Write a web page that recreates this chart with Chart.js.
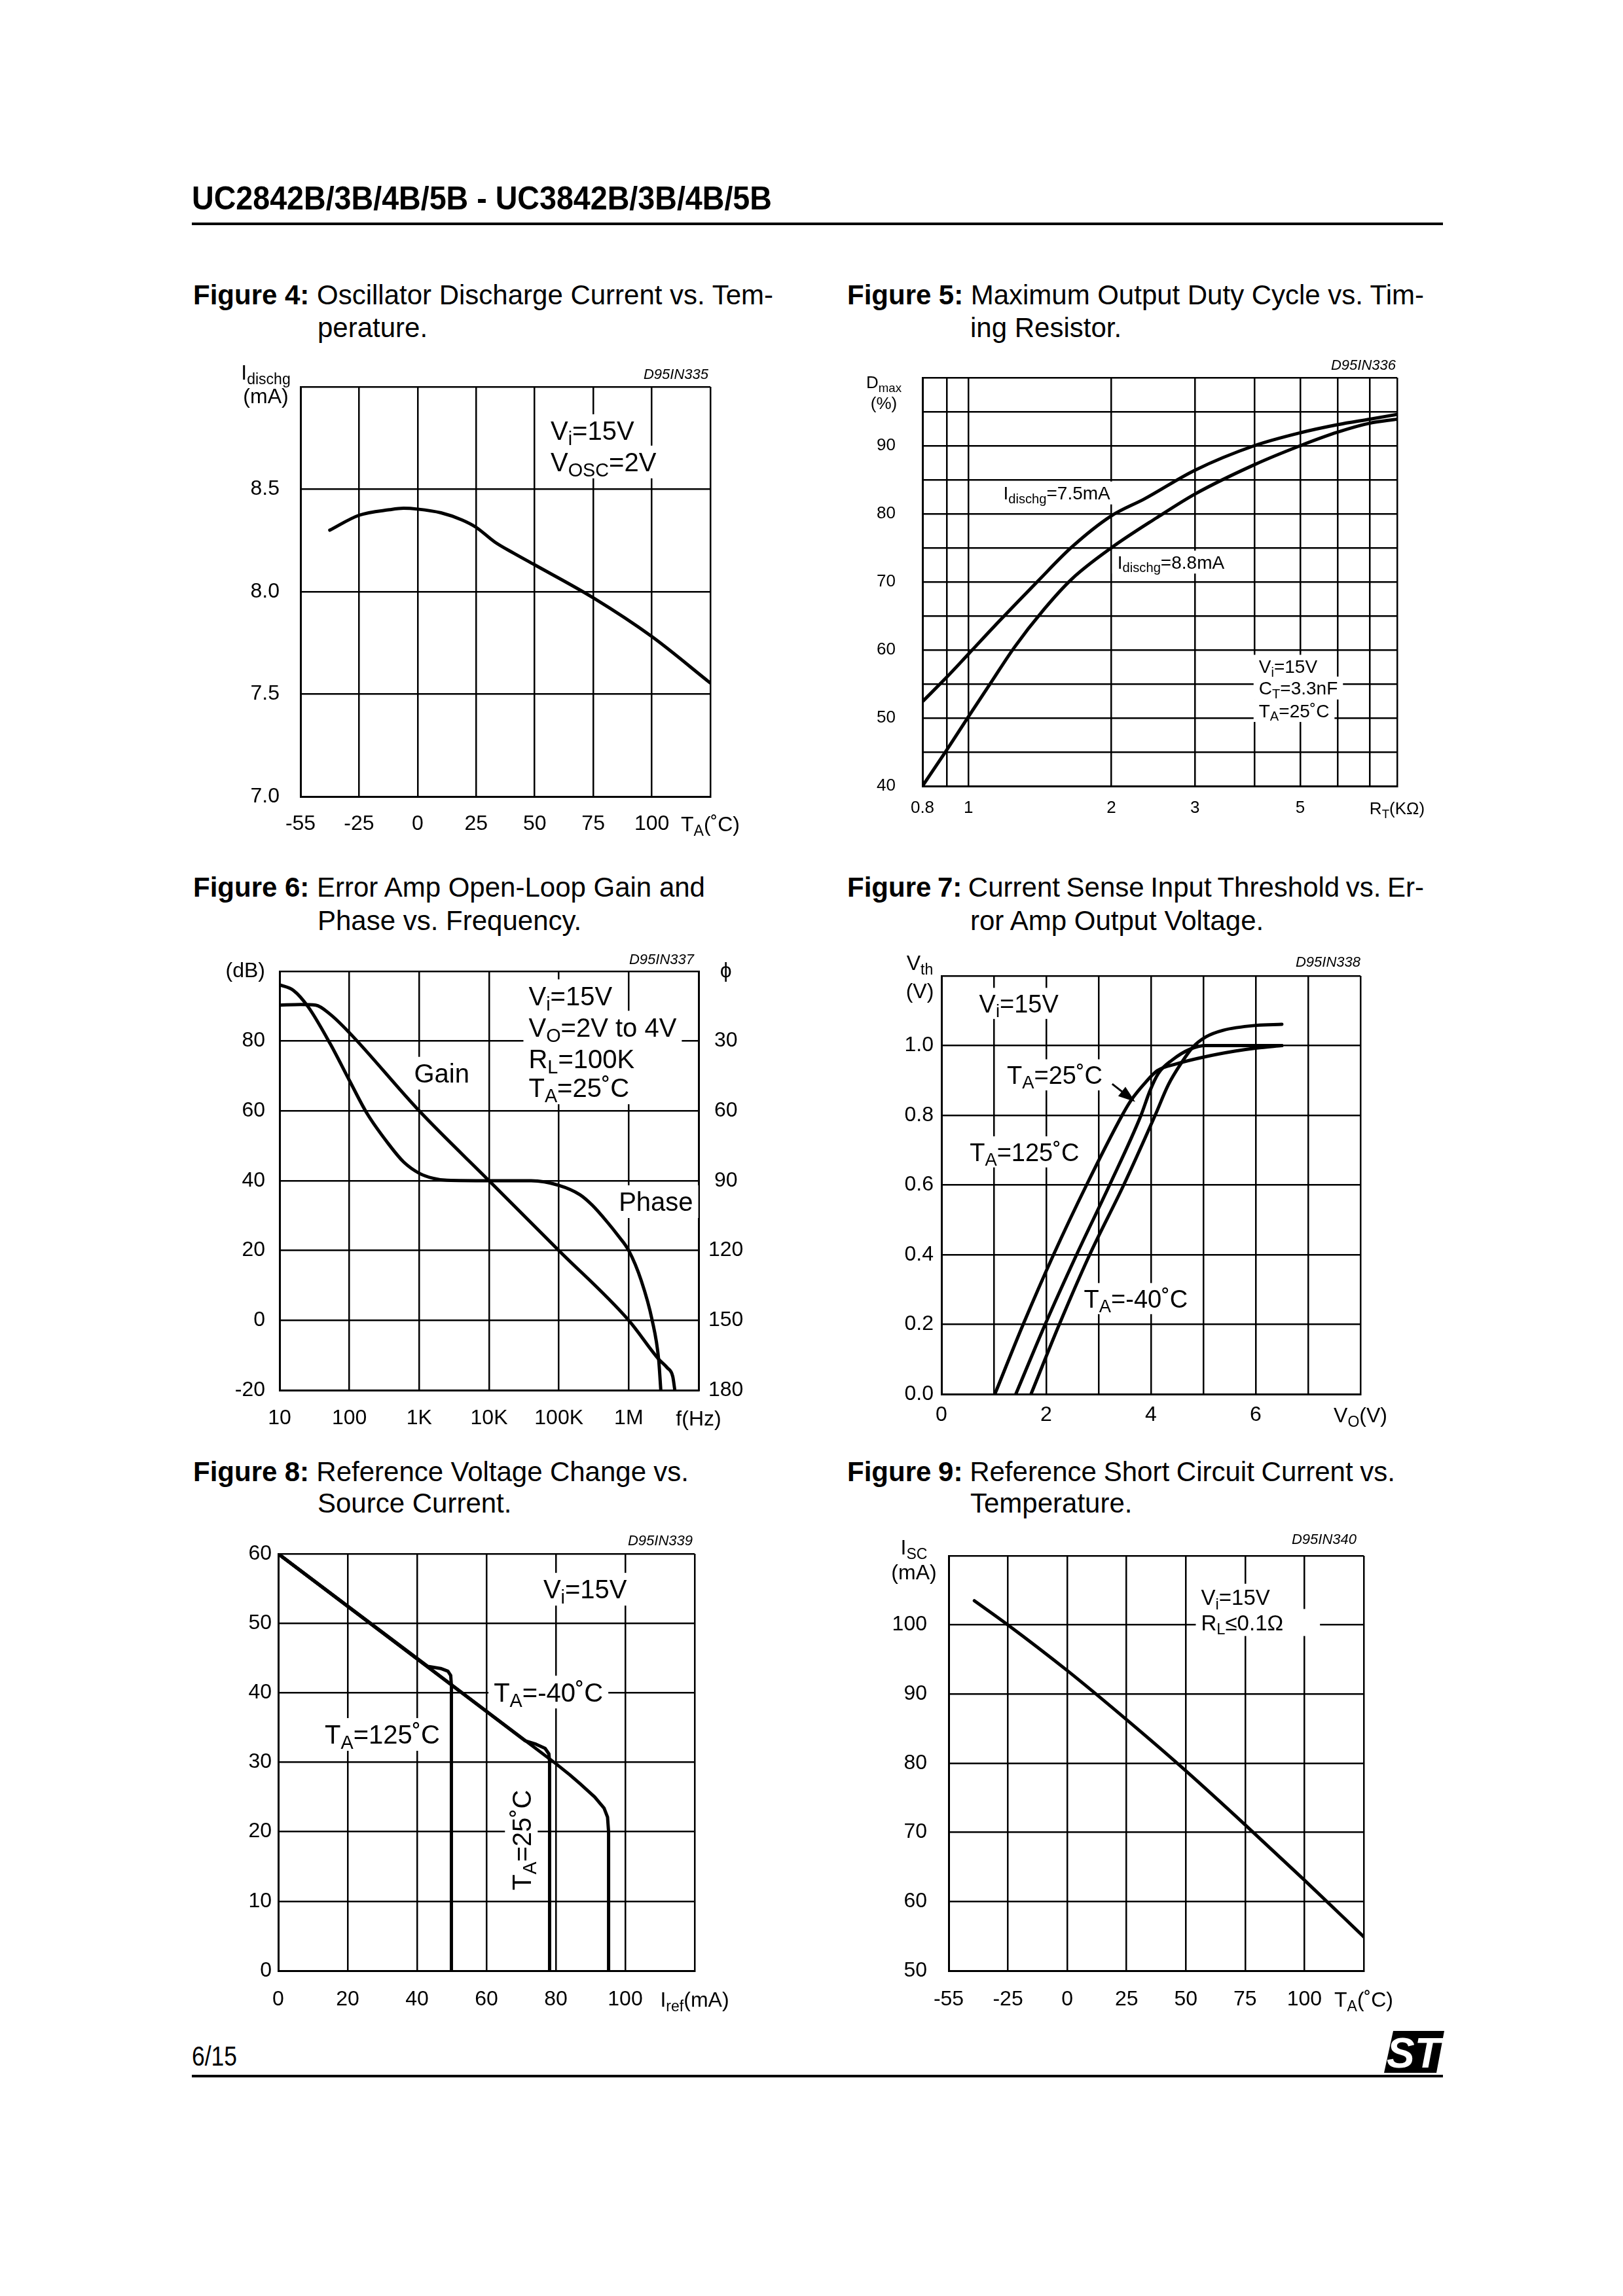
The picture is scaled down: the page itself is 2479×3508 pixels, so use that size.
<!DOCTYPE html>
<html>
<head>
<meta charset="utf-8">
<title>UC2842B/3B/4B/5B - UC3842B/3B/4B/5B</title>
<script src="https://cdn.jsdelivr.net/npm/chart.js@4.4.1/dist/chart.umd.min.js"></script>
<style>
  html, body { margin: 0; padding: 0; background: #fff; }
  body { position: relative; width: 2479px; height: 3508px; overflow: hidden; font-family: 'Liberation Sans', Arial, sans-serif; color: #000; }
  .t { position: absolute; white-space: nowrap; line-height: 1; transform-origin: 0 0; }
  .cap { position: absolute; white-space: nowrap; font-size: 42px; line-height: 42px; }
  .rule { position: absolute; left: 293px; width: 1911px; height: 4px; background: #000; }
  canvas { position: absolute; }
</style>
</head>
<body>
<div id="hdr" class="t" style="left:293px; top:278px; font-size:50px; font-weight:bold;">UC2842B/3B/4B/5B - UC3842B/3B/4B/5B</div>
<div class="rule" style="top:340px"></div>

<div class="cap fit" data-w="886" style="left:295px; top:430px"><b>Figure 4:</b> Oscillator Discharge Current vs. Tem-</div>
<div class="cap" style="left:485px; top:480px">perature.</div>
<div class="cap fit" data-w="881" style="left:1294px; top:430px"><b>Figure 5:</b> Maximum Output Duty Cycle vs. Tim-</div>
<div class="cap" style="left:1482px; top:480px">ing Resistor.</div>

<div class="cap fit" data-w="782" style="left:295px; top:1335px"><b>Figure 6:</b> Error Amp Open-Loop Gain and</div>
<div class="cap" style="left:485px; top:1386px">Phase vs. Frequency.</div>
<div class="cap fit" data-w="881" style="left:1294px; top:1335px"><b>Figure 7:</b> Current Sense Input Threshold vs. Er-</div>
<div class="cap" style="left:1482px; top:1386px">ror Amp Output Voltage.</div>

<div class="cap fit" data-w="757" style="left:295px; top:2228px"><b>Figure 8:</b> Reference Voltage Change vs.</div>
<div class="cap" style="left:485px; top:2276px">Source Current.</div>
<div class="cap fit" data-w="837" style="left:1294px; top:2228px"><b>Figure 9:</b> Reference Short Circuit Current vs.</div>
<div class="cap" style="left:1482px; top:2276px">Temperature.</div>

<canvas id="fig4"></canvas>
<canvas id="fig5"></canvas>
<canvas id="fig6"></canvas>
<canvas id="fig7"></canvas>
<canvas id="fig8"></canvas>
<canvas id="fig9"></canvas>

<div id="pg" class="t" style="left:293px; top:3120px; font-size:43px;">6/15</div>
<div class="rule" style="top:3170px"></div>
<svg style="position:absolute; left:2114px; top:3103px" width="92" height="64" viewBox="0 0 92 64">
  <polygon points="14,0 92,0 80,64 0,64" fill="#000"/>
  <text x="45" y="56" font-family="Liberation Sans, Arial" font-weight="bold" font-style="italic" font-size="64" fill="#fff" text-anchor="middle">ST</text>
</svg>

<script>
// ---- Figure 4: oscillator discharge current vs temperature
const fig4Temp = [-40, -25, -12, -6, 0, 10, 19, 25, 33, 41, 50, 75, 100, 125];
const fig4Idis = [8.30, 8.373, 8.40, 8.407, 8.403, 8.385, 8.35, 8.314, 8.242, 8.188, 8.131, 7.97, 7.781, 7.554];
const fig4XTicks = [-50, -25, 0, 25, 50, 75, 100, 125];
const fig4XLabels = ['-55', '-25', '0', '25', '50', '75', '100', ''];
const fig4YTicks = [7, 7.5, 8, 8.5, 9];
const fig4YLabels = ['7.0', '7.5', '8.0', '8.5', ''];

// ---- Figure 5: max duty cycle vs timing resistor
const fig5Rt75 = [0.8, 0.9, 1.0, 1.16, 1.4, 1.65, 2.0, 2.35, 3.0, 4.0, 5.0, 6.0, 7.0, 8.0];
const fig5D75 = [52.4, 56.0, 59.4, 64.2, 70.1, 75.1, 79.7, 82.2, 86.4, 90.0, 91.9, 93.1, 93.9, 94.6];
const fig5Rt88 = [0.8, 0.9, 1.0, 1.12, 1.25, 1.44, 1.65, 2.0, 2.49, 3.0, 4.0, 5.0, 6.0, 7.0, 8.0];
const fig5D88 = [40.0, 45.3, 50.2, 55.4, 60.4, 65.9, 70.4, 75.0, 79.4, 82.9, 87.2, 90.0, 92.0, 93.3, 93.9];
const fig5XTicks = [0.8, 0.9, 1, 2, 3, 4, 5, 6, 7, 8];
const fig5XLabels = ['0.8', '', '1', '2', '3', '', '5', '', '', ''];
const fig5YTicks = [40, 45, 50, 55, 60, 65, 70, 75, 80, 85, 90, 95, 100];
const fig5YLabels = ['40', '', '50', '', '60', '', '70', '', '80', '', '90', '', ''];

// ---- Figure 6: error amp gain and phase vs frequency
const fig6GainFreq = [10, 20, 33, 53, 100, 1e3, 1e4, 1e5, 1e6, 2.68e6, 3.57e6, 4.27e6, 4.57e6];
const fig6Gain = [90.3, 90.5, 90.3, 87.7, 82.4, 60, 40, 20, 0, -11.1, -13.6, -16.1, -20];
const fig6PhFreq = [10, 15.8, 25.7, 53, 100, 179, 370, 600, 1e3, 1.6e3, 2.5e3, 1e4, 4e4, 1e5, 2e5, 3e5, 5e5, 7e5, 1e6, 1.51e6, 2.16e6, 2.68e6, 2.88e6];
const fig6Phase = [5.8, 8.2, 15.3, 31.1, 46.9, 61.1, 74.5, 82, 86.8, 89.0, 89.8, 90, 90, 92, 96, 100.5, 108, 113.5, 120, 132.9, 149.8, 166.7, 180];
const fig6XTicks = [1e1, 1e2, 1e3, 1e4, 1e5, 1e6, 1e7];
const fig6XLabels = ['10', '100', '1K', '10K', '100K', '1M', ''];
const fig6YTicks = [-20, 0, 20, 40, 60, 80, 100];
const fig6YLabels = ['-20', '0', '20', '40', '60', '80', '(dB)'];
const fig6PhTicks = [0, 30, 60, 90, 120, 150, 180];
const fig6PhLabels = ['\u03D5', '30', '60', '90', '120', '150', '180'];

// ---- Figure 7: current sense threshold vs error amp output
const fig7VoHot = [1.02, 1.56, 2.14, 2.77, 3.45, 3.62, 3.87, 4.12, 4.5, 5.04, 5.6, 6.02, 6.5];
const fig7VthHot = [0, 0.2, 0.4, 0.6, 0.8, 0.843, 0.89, 0.928, 0.948, 0.968, 0.984, 0.993, 1.0];
const fig7VoRoom = [1.42, 1.98, 2.58, 3.21, 3.81, 3.98, 4.14, 4.40, 4.75, 5.05, 6.0, 6.5];
const fig7VthRoom = [0, 0.2, 0.4, 0.6, 0.8, 0.87, 0.92, 0.958, 0.99, 1.0, 1.0, 1.0];
const fig7VoCold = [1.71, 2.25, 2.83, 3.48, 4.08, 4.33, 4.58, 4.79, 5.05, 5.38, 6.01, 6.5];
const fig7VthCold = [0, 0.2, 0.4, 0.6, 0.8, 0.887, 0.95, 0.994, 1.025, 1.044, 1.058, 1.061];
const fig7XTicks = [0, 1, 2, 3, 4, 5, 6, 7, 8];
const fig7XLabels = ['0', '', '2', '', '4', '', '6', '', ''];
const fig7YTicks = [0, 0.2, 0.4, 0.6, 0.8, 1.0, 1.2];
const fig7YLabels = ['0.0', '0.2', '0.4', '0.6', '0.8', '1.0', ''];

// ---- Figure 8: reference voltage change vs source current
const fig8IrefCold = [0, 40, 60, 80, 84, 87, 91.2, 93.9, 94.9, 95.2, 95.2];
const fig8DvCold = [60, 44.9, 37.35, 29.8, 28.2, 26.9, 25.0, 23.4, 22.1, 20.0, 0];
const fig8IrefHot = [0, 43.1, 46.8, 48.9, 49.7, 49.9, 49.9];
const fig8DvHot = [60, 43.8, 43.5, 43.1, 42.5, 41.1, 0];
const fig8IrefRoom = [0, 71.1, 74.3, 76.9, 78.0, 78.2, 78.2];
const fig8DvRoom = [60, 33.1, 32.6, 32.0, 31.2, 30.0, 0];
const fig8XTicks = [0, 20, 40, 60, 80, 100, 120];
const fig8XLabels = ['0', '20', '40', '60', '80', '100', ''];
const fig8YTicks = [0, 10, 20, 30, 40, 50, 60];
const fig8YLabels = ['0', '10', '20', '30', '40', '50', '60'];

// ---- Figure 9: reference short circuit current vs temperature
const fig9Temp = [-42, -25, 0, 25, 50, 75, 100, 125];
const fig9Isc = [103.5, 100.0, 93.4, 86.3, 78.9, 71.1, 63.1, 54.9];
const fig9XTicks = [-50, -25, 0, 25, 50, 75, 100, 125];
const fig9XLabels = ['-55', '-25', '0', '25', '50', '75', '100', ''];
const fig9YTicks = [50, 60, 70, 80, 90, 100, 110];
const fig9YLabels = ['50', '60', '70', '80', '90', '100', ''];

const FONT = "'Liberation Sans', Arial, Helvetica, sans-serif";
const M = {l: 140, t: 70, r: 110, b: 80};

// temperature grids: first column covers -55..-25, the rest 25 degrees each
const warpT = t => (t < -25 ? -25 - (-25 - t) * 25 / 30 : t);

// plot frames on the page
const frames = {
  fig4: {left: 459, top: 591, right: 1085, bottom: 1217},
  fig5: {left: 1409, top: 577, right: 2134, bottom: 1201},
  fig6: {left: 427, top: 1484, right: 1067, bottom: 2124},
  fig7: {left: 1438, top: 1491, right: 2078, bottom: 2130},
  fig8: {left: 425, top: 2374, right: 1061, bottom: 3011},
  fig9: {left: 1449, top: 2377, right: 2083, bottom: 3011}
};

// "V_{i}=15V" -> runs of normal / subscript text
function richParts(str) {
  const out = [];
  const re = /_\{([^}]*)\}/g;
  let last = 0, m;
  while ((m = re.exec(str))) {
    if (m.index > last) out.push({t: str.slice(last, m.index), sub: false});
    out.push({t: m[1], sub: true});
    last = re.lastIndex;
  }
  if (last < str.length) out.push({t: str.slice(last), sub: false});
  return out;
}

function richWidth(ctx, str, size) {
  let w = 0;
  richParts(str).forEach(p => {
    ctx.font = (p.sub ? size * 0.72 : size) + 'px ' + FONT;
    w += ctx.measureText(p.t).width;
  });
  return w;
}

// y is the middle of the capitals
function drawRich(ctx, str, x, y, size, align) {
  const w = richWidth(ctx, str, size);
  let cx = align === 'center' ? x - w / 2 : (align === 'right' ? x - w : x);
  const base = y + size * 0.358;
  ctx.textAlign = 'left';
  ctx.textBaseline = 'alphabetic';
  ctx.fillStyle = '#000';
  richParts(str).forEach(p => {
    const s = p.sub ? size * 0.72 : size;
    ctx.font = s + 'px ' + FONT;
    ctx.fillText(p.t, cx, base + (p.sub ? size * 0.2 : 0));
    cx += ctx.measureText(p.t).width;
  });
}

function notesPlugin(n) {
  return {
    id: 'notes',
    beforeDatasetsDraw(chart) {
      const ctx = chart.ctx, sx = chart.scales.x, sy = chart.scales.y;
      ctx.save();
      (n.items || []).forEach(it => {
        if (!it.bg) return;
        const w = richWidth(ctx, it.t, n.size);
        const px = sx.getPixelForValue(it.x), py = sy.getPixelForValue(it.y);
        const h = n.size * 1.25;
        ctx.fillStyle = '#fff';
        if (it.rot) ctx.fillRect(px - h / 2, py - w / 2 - 8, h, w + 16);
        else ctx.fillRect(px - 8, py - h / 2, w + 16 + (it.padR || 0), h);
      });
      ctx.restore();
    },
    afterDatasetsDraw(chart) {
      const ctx = chart.ctx, sx = chart.scales.x, sy = chart.scales.y, a = chart.chartArea;
      ctx.save();
      (n.items || []).forEach(it => {
        const px = sx.getPixelForValue(it.x), py = sy.getPixelForValue(it.y);
        if (it.rot) {
          ctx.save();
          ctx.translate(px, py);
          ctx.rotate(-Math.PI / 2);
          drawRich(ctx, it.t, 0, 0, n.size, 'center');
          ctx.restore();
        } else {
          drawRich(ctx, it.t, px, py, n.size, 'left');
        }
      });
      (n.arrows || []).forEach(ar => {
        const x1 = sx.getPixelForValue(ar.from[0]), y1 = sy.getPixelForValue(ar.from[1]);
        const x2 = sx.getPixelForValue(ar.to[0]), y2 = sy.getPixelForValue(ar.to[1]);
        const ang = Math.atan2(y2 - y1, x2 - x1);
        const c = Math.cos(ang), s = Math.sin(ang);
        ctx.strokeStyle = '#000';
        ctx.lineWidth = 3;
        ctx.beginPath(); ctx.moveTo(x1, y1); ctx.lineTo(x2, y2); ctx.stroke();
        ctx.beginPath();
        ctx.moveTo(x2 + 4 * c, y2 + 4 * s);
        ctx.lineTo(x2 - 22 * c + 9 * s, y2 - 22 * s - 9 * c);
        ctx.lineTo(x2 - 22 * c - 9 * s, y2 - 22 * s + 9 * c);
        ctx.closePath();
        ctx.fillStyle = '#000';
        ctx.fill();
      });
      (n.yUnit || []).forEach(u => drawRich(ctx, u.t, a.left + u.dx, a.top + u.dy, n.tick, 'center'));
      if (n.xUnit) drawRich(ctx, n.xUnit, a.right, a.bottom + n.xUnitDy, n.tick, 'center');
      if (n.code) {
        ctx.font = 'italic 22px ' + FONT;
        ctx.textAlign = 'right';
        ctx.textBaseline = 'middle';
        ctx.fillStyle = '#000';
        ctx.fillText(n.code, a.right + n.codeDx, a.top + n.codeDy);
      }
      ctx.restore();
    }
  };
}

function axis(o, pos) {
  return {
    type: o.type || 'linear',
    position: pos,
    min: o.min,
    max: o.max,
    reverse: !!o.reverse,
    afterBuildTicks: s => { s.ticks = o.ticks.map(v => ({value: v})); },
    afterFit: s => {
      if (pos === 'bottom') s.height = M.b;
      else s.width = pos === 'right' ? M.r : M.l;
    },
    grid: {color: '#000', lineWidth: 2.5, drawTicks: false, drawOnChartArea: pos !== 'right'},
    border: {color: '#000', width: 3},
    ticks: {
      color: '#000',
      font: {family: FONT, size: o.size},
      padding: o.pad,
      maxRotation: 0,
      minRotation: 0,
      autoSkip: false,
      crossAlign: pos === 'right' ? 'center' : 'near',
      callback: (v, i) => o.labels[i]
    }
  };
}

function buildChart(id, o) {
  const f = frames[id];
  const canvas = document.getElementById(id);
  canvas.width = f.right - f.left + M.l + M.r;
  canvas.height = f.bottom - f.top + M.t + M.b;
  canvas.style.left = (f.left - M.l) + 'px';
  canvas.style.top = (f.top - M.t) + 'px';
  const scales = {x: axis(o.x, 'bottom'), y: axis(o.y, 'left')};
  if (o.y2) scales.y2 = axis(o.y2, 'right');
  return new Chart(canvas, {
    type: 'line',
    data: {
      datasets: o.series.map(d => ({
        data: d.xs.map((v, i) => ({x: v, y: d.ys[i]})),
        yAxisID: d.axis || 'y',
        borderColor: '#000',
        borderWidth: 5,
        pointRadius: 0,
        fill: false,
        tension: 0,
        cubicInterpolationMode: o.sharp ? 'default' : 'monotone',
        borderJoinStyle: 'round',
        borderCapStyle: 'round'
      }))
    },
    options: {
      responsive: false,
      animation: false,
      events: [],
      layout: {autoPadding: false, padding: {left: 0, top: M.t, right: o.y2 ? 0 : M.r, bottom: 0}},
      scales: scales,
      plugins: {legend: {display: false}, tooltip: {enabled: false}}
    },
    plugins: [notesPlugin(o.notes)]
  });
}

buildChart('fig4', {
  x: {min: -50, max: 125, ticks: fig4XTicks, labels: fig4XLabels, size: 32, pad: 23},
  y: {min: 7, max: 9, ticks: fig4YTicks, labels: fig4YLabels, size: 32, pad: 32},
  series: [{xs: fig4Temp.map(warpT), ys: fig4Idis}],
  notes: {
    size: 40, tick: 32,
    items: [
      {t: 'V_{i}=15V', x: 56.8, y: 8.786, bg: true},
      {t: 'V_{OSC}=2V', x: 56.8, y: 8.633, bg: true}
    ],
    yUnit: [{t: 'I_{dischg}', dx: -53, dy: -22}, {t: '(mA)', dx: -53, dy: 14}],
    xUnit: 'T_{A}(\u02DAC)', xUnitDy: 42,
    code: 'D95IN335', codeDx: -3, codeDy: -18
  }
});

buildChart('fig5', {
  x: {type: 'logarithmic', min: 0.8, max: 8, ticks: fig5XTicks, labels: fig5XLabels, size: 26, pad: 18},
  y: {min: 40, max: 100, ticks: fig5YTicks, labels: fig5YLabels, size: 26, pad: 41},
  series: [{xs: fig5Rt75, ys: fig5D75}, {xs: fig5Rt88, ys: fig5D88}],
  notes: {
    size: 28, tick: 26,
    items: [
      {t: 'I_{dischg}=7.5mA', x: 1.184, y: 83.06, bg: true},
      {t: 'I_{dischg}=8.8mA', x: 2.06, y: 72.9, bg: true},
      {t: 'V_{i}=15V', x: 4.09, y: 57.6, bg: true},
      {t: 'C_{T}=3.3nF', x: 4.09, y: 54.4, bg: true},
      {t: 'T_{A}=25\u02DAC', x: 4.09, y: 51.1, bg: true}
    ],
    yUnit: [{t: 'D_{max}', dx: -59, dy: 7}, {t: '(%)', dx: -59, dy: 39}],
    xUnit: 'R_{T}(K\u03A9)', xUnitDy: 34,
    code: 'D95IN336', codeDx: -2, codeDy: -18
  }
});

buildChart('fig6', {
  x: {type: 'logarithmic', min: 10, max: 1e7, ticks: fig6XTicks, labels: fig6XLabels, size: 32, pad: 24},
  y: {min: -20, max: 100, ticks: fig6YTicks, labels: fig6YLabels, size: 32, pad: 22},
  y2: {min: 0, max: 180, reverse: true, ticks: fig6PhTicks, labels: fig6PhLabels, size: 32, pad: 15},
  series: [{xs: fig6GainFreq, ys: fig6Gain}, {xs: fig6PhFreq, ys: fig6Phase, axis: 'y2'}],
  notes: {
    size: 40, tick: 32,
    items: [
      {t: 'V_{i}=15V', x: 36900, y: 93, bg: true},
      {t: 'V_{O}=2V to 4V', x: 36900, y: 84, bg: true},
      {t: 'R_{L}=100K', x: 36900, y: 75, bg: true},
      {t: 'T_{A}=25\u02DAC', x: 36900, y: 66.6, bg: true},
      {t: 'Gain', x: 843, y: 70.8, bg: true},
      {t: 'Phase', x: 721000, y: 34, bg: true}
    ],
    xUnit: 'f(Hz)', xUnitDy: 43,
    code: 'D95IN337', codeDx: -7, codeDy: -17
  }
});

buildChart('fig7', {
  x: {min: 0, max: 8, ticks: fig7XTicks, labels: fig7XLabels, size: 32, pad: 13},
  y: {min: 0, max: 1.2, ticks: fig7YTicks, labels: fig7YLabels, size: 32, pad: 12},
  series: [{xs: fig7VoHot, ys: fig7VthHot}, {xs: fig7VoRoom, ys: fig7VthRoom}, {xs: fig7VoCold, ys: fig7VthCold}],
  notes: {
    size: 38, tick: 32,
    items: [
      {t: 'V_{i}=15V', x: 0.72, y: 1.121, bg: true},
      {t: 'T_{A}=25\u02DAC', x: 1.25, y: 0.916, bg: true},
      {t: 'T_{A}=125\u02DAC', x: 0.54, y: 0.695, bg: true},
      {t: 'T_{A}=-40\u02DAC', x: 2.72, y: 0.274, bg: true}
    ],
    arrows: [{from: [3.26, 0.89], to: [3.66, 0.843]}],
    yUnit: [{t: 'V_{th}', dx: -33, dy: -20}, {t: '(V)', dx: -33, dy: 23}],
    xUnit: 'V_{O}(V)', xUnitDy: 32,
    code: 'D95IN338', codeDx: 0, codeDy: -20
  }
});

buildChart('fig8', {
  x: {min: 0, max: 120, ticks: fig8XTicks, labels: fig8XLabels, size: 32, pad: 25},
  y: {min: 0, max: 60, ticks: fig8YTicks, labels: fig8YLabels, size: 32, pad: 10},
  sharp: true,
  series: [{xs: fig8IrefCold, ys: fig8DvCold}, {xs: fig8IrefHot, ys: fig8DvHot}, {xs: fig8IrefRoom, ys: fig8DvRoom}],
  notes: {
    size: 40, tick: 32,
    items: [
      {t: 'V_{i}=15V', x: 76.4, y: 54.9, bg: true},
      {t: 'T_{A}=-40\u02DAC', x: 62.1, y: 40.1, bg: true},
      {t: 'T_{A}=125\u02DAC', x: 13.4, y: 34.0, bg: true},
      {t: 'T_{A}=25\u02DAC', x: 70.05, y: 18.8, bg: true, rot: true}
    ],
    xUnit: 'I_{ref}(mA)', xUnitDy: 44,
    code: 'D95IN339', codeDx: -3, codeDy: -19
  }
});

buildChart('fig9', {
  x: {min: -50, max: 125, ticks: fig9XTicks, labels: fig9XLabels, size: 32, pad: 25},
  y: {min: 50, max: 110, ticks: fig9YTicks, labels: fig9YLabels, size: 32, pad: 33},
  series: [{xs: fig9Temp.map(warpT), ys: fig9Isc}],
  notes: {
    size: 33, tick: 32,
    items: [
      {t: 'V_{i}=15V', x: 56.4, y: 104.0, bg: true},
      {t: 'R_{L}\u22640.1\u03A9', x: 56.4, y: 100.35, bg: true, padR: 48}
    ],
    yUnit: [{t: 'I_{SC}', dx: -53, dy: -13}, {t: '(mA)', dx: -53, dy: 25}],
    xUnit: 'T_{A}(\u02DAC)', xUnitDy: 44,
    code: 'D95IN340', codeDx: -11, codeDy: -24
  }
});

// stretch justified caption lines and condensed header/footer text to their widths
document.querySelectorAll('.fit').forEach(el => {
  const spaces = (el.textContent.match(/ /g) || []).length;
  const extra = (+el.dataset.w - el.getBoundingClientRect().width) / spaces;
  el.style.wordSpacing = extra.toFixed(2) + 'px';
});
function squeeze(id, w) {
  const el = document.getElementById(id);
  el.style.transform = 'scaleX(' + (w / el.getBoundingClientRect().width).toFixed(4) + ')';
}
squeeze('hdr', 886);
squeeze('pg', 69);
</script>
</body>
</html>
